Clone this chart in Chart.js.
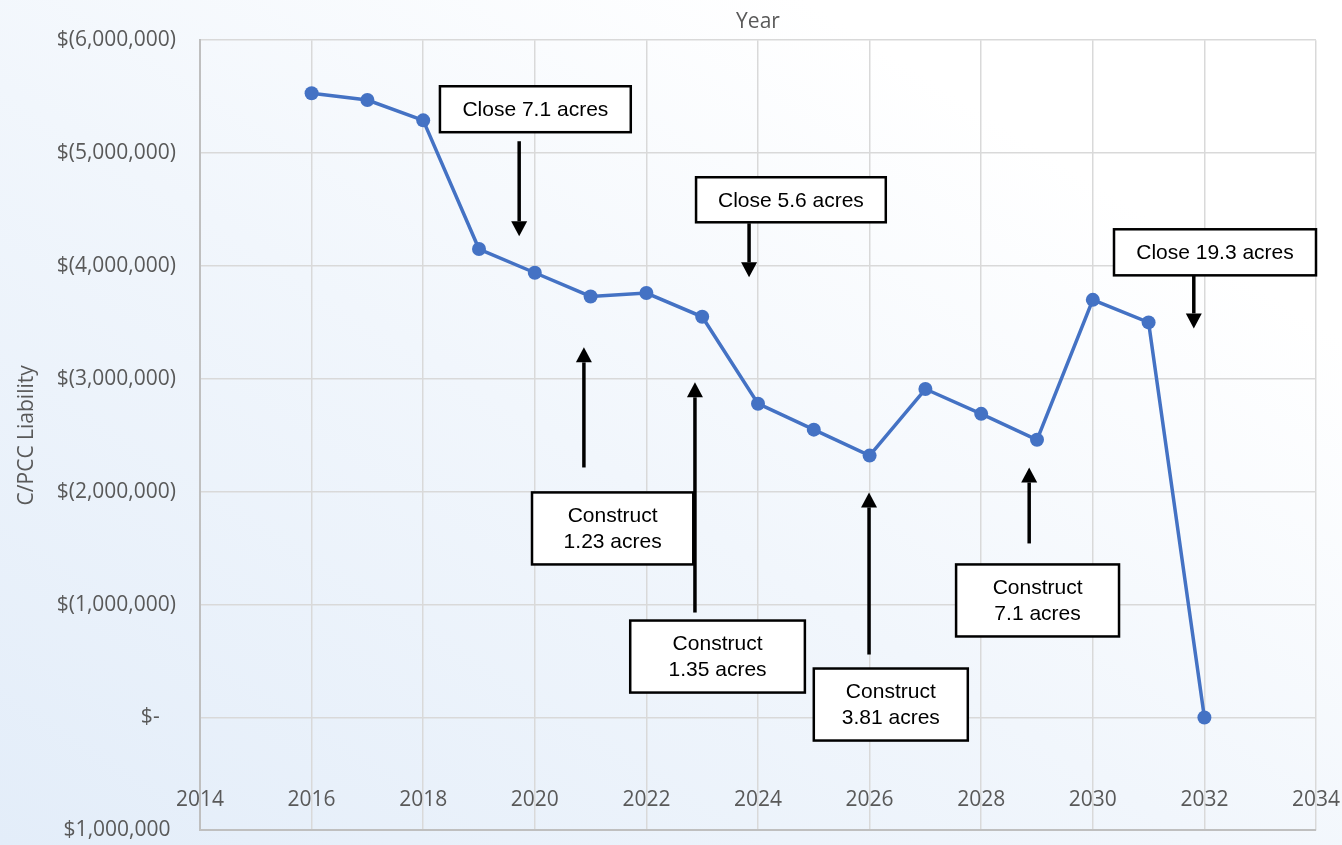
<!DOCTYPE html>
<html><head><meta charset="utf-8">
<script src="https://cdn.jsdelivr.net/npm/chart.js@4.4.1/dist/chart.umd.min.js"></script>
<style>
html,body{margin:0;padding:0;width:1342px;height:845px;overflow:hidden;}
body{background:linear-gradient(to top right,#e3edf9 0%,#f1f6fc 45%,#ffffff 80%);}
canvas{display:block;}
</style></head><body>
<canvas id="c" width="1342" height="867"></canvas>
<script>
// ---- data ----
const years = [2016, 2017, 2018, 2019, 2020, 2021, 2022, 2023, 2024, 2025, 2026, 2027, 2028, 2029, 2030, 2031, 2032];
const liability = [-5530000, -5470000, -5290000, -4150000, -3940000, -3730000, -3760000, -3550000, -2780000, -2550000, -2320000, -2910000, -2690000, -2460000, -3700000, -3500000, 0];
const xTitle = 'Year';
const yTitle = 'C/PCC Liability';

// annotation texts and anchors (data units)
const noteTexts = [
  ['Close 7.1 acres'],
  ['Close 5.6 acres'],
  ['Close 19.3 acres'],
  ['Construct', '1.23 acres'],
  ['Construct', '1.35 acres'],
  ['Construct', '3.81 acres'],
  ['Construct', '7.1 acres']
];
// [xLeft, xRight, yTop, yBottom]
const noteBoxes = [
  [2018.30, 2021.72, -5592000, -5185000],
  [2022.89, 2026.29, -4786000, -4387000],
  [2030.38, 2034.00, -4325000, -3917000],
  [2019.95, 2022.84, -1994000, -1356000],
  [2021.71, 2024.84, -859000, -221000],
  [2025.00, 2027.76, -434000, 204000],
  [2027.55, 2030.47, -1356000, -718000]
];
// [x, yStart, yTip]
const noteArrows = [
  [2019.72, -5105000, -4263000],
  [2023.84, -4378000, -3899000],
  [2031.81, -3917000, -3447000],
  [2020.88, -2215000, -3279000],
  [2022.87, -930000, -2969000],
  [2025.99, -558000, -1994000],
  [2028.86, -1542000, -2215000]
];
const xLabelLevel = 620000; // value where Excel drew the year labels

const TICK_FONT = {family: '"Open Sans", sans-serif', size: 21};
const GREY = '#595959';

function money(v) {
  if (v === 0) return '$-   ';
  const s = Math.abs(v).toLocaleString('en-US');
  return v < 0 ? '$(' + s + ')' : '$' + s + ' ';
}

const annotate = {
  id: 'annotate',
  afterDatasetsDraw(chart) {
    const {ctx, scales: {x, y}} = chart;
    ctx.save();
    noteBoxes.forEach((b, i) => {
      const l = x.getPixelForValue(b[0]), r = x.getPixelForValue(b[1]);
      const t = y.getPixelForValue(b[2]), bt = y.getPixelForValue(b[3]);
      ctx.fillStyle = '#ffffff';
      ctx.fillRect(l, t, r - l, bt - t);
      ctx.lineWidth = 2.5;
      ctx.strokeStyle = '#000';
      ctx.strokeRect(l, t, r - l, bt - t);
      ctx.fillStyle = '#000';
      ctx.font = '21px "Liberation Sans", Arial, sans-serif';
      ctx.textAlign = 'center';
      ctx.textBaseline = 'middle';
      const lines = noteTexts[i];
      const cx = (l + r) / 2, cy = (t + bt) / 2, lh = 26;
      lines.forEach((s, k) => {
        ctx.fillText(s, cx, cy + (k - (lines.length - 1) / 2) * lh + 1);
      });
    });
    noteArrows.forEach(a => {
      const ax = x.getPixelForValue(a[0]);
      const y0 = y.getPixelForValue(a[1]), y1 = y.getPixelForValue(a[2]);
      const dir = y1 > y0 ? 1 : -1;
      const head = 15, hw = 8;
      ctx.strokeStyle = '#000';
      ctx.lineWidth = 3.5;
      ctx.beginPath();
      ctx.moveTo(ax, y0);
      ctx.lineTo(ax, y1 - dir * head);
      ctx.stroke();
      ctx.fillStyle = '#000';
      ctx.beginPath();
      ctx.moveTo(ax, y1);
      ctx.lineTo(ax - hw, y1 - dir * head);
      ctx.lineTo(ax + hw, y1 - dir * head);
      ctx.closePath();
      ctx.fill();
    });
    ctx.restore();
  }
};

new Chart(document.getElementById('c'), {
  type: 'line',
  data: {
    datasets: [{
      data: years.map((yr, i) => ({x: yr, y: liability[i]})),
      borderColor: '#4472C4',
      backgroundColor: '#4472C4',
      borderWidth: 3.5,
      pointRadius: 7,
      pointHoverRadius: 7,
      pointBorderWidth: 0,
      tension: 0,
      clip: false
    }]
  },
  options: {
    responsive: false,
    animation: false,
    layout: {padding: {left: 0, right: 26, top: 1, bottom: 15}},
    plugins: {
      legend: {display: false},
      tooltip: {enabled: false},
      title: {
        display: true, text: xTitle, fullSize: false,
        color: GREY, font: {family: TICK_FONT.family, size: 21, weight: 'normal'},
        padding: {top: 8, bottom: 6}
      }
    },
    scales: {
      x: {
        type: 'linear', position: {y: xLabelLevel},
        min: 2014, max: 2034,
        ticks: {stepSize: 2, color: GREY, font: TICK_FONT, padding: 0, maxRotation: 0, autoSkip: false,
          callback: v => String(v)},
        grid: {color: '#d9d9d9', lineWidth: 1.5, drawTicks: false},
        border: {display: false}
      },
      y: {
        reverse: true,
        min: -6000000, max: 1000000,
        ticks: {stepSize: 1000000, color: GREY, font: TICK_FONT, padding: 24, callback: v => money(v)},
        grid: {
          color: c => c.tick && c.tick.value === 1000000 ? '#bfbfbf' : '#d9d9d9',
          lineWidth: c => c.tick && c.tick.value === 1000000 ? 2 : 1.5,
          drawTicks: false
        },
        border: {color: '#bfbfbf', width: 2},
        title: {display: true, text: yTitle, color: GREY, font: TICK_FONT, padding: {top: 14, bottom: 0}},
        afterFit: s => { s.width = 200; }
      }
    }
  },
  plugins: [annotate]
});
</script>
</body></html>
